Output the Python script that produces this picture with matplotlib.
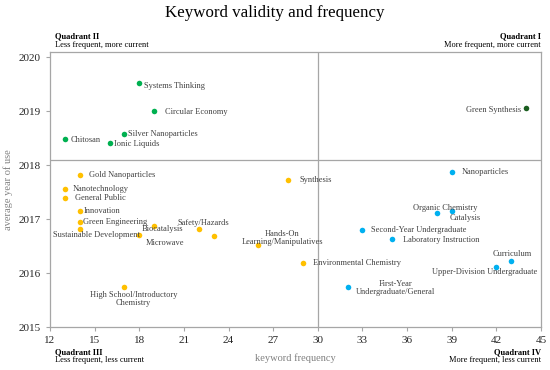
import matplotlib.pyplot as plt

plt.rcParams['font.family'] = ['Liberation Serif', 'DejaVu Serif']

# keyword frequency, average year of use, label, label offset (pixels), alignment
green_x = [18, 19, 13, 17, 16]
green_y = [2019.53, 2019.0, 2018.48, 2018.57, 2018.41]
green_lab = ["Systems Thinking", "Circular Economy", "Chitosan", "Silver Nanoparticles", "Ionic Liquids"]

dark_x = [44]
dark_y = [2019.07]
dark_lab = ["Green Synthesis"]

yellow_x = [14, 13, 13, 14, 14, 14, 19, 18, 22, 23, 26, 17, 28, 29]
yellow_y = [2017.81, 2017.55, 2017.40, 2017.16, 2016.95, 2016.81, 2016.88, 2016.70,
            2016.82, 2016.69, 2016.52, 2015.74, 2017.73, 2016.19]
yellow_lab = ["Gold Nanoparticles", "Nanotechnology", "General Public", "Innovation",
              "Green Engineering", "Sustainable Development", "Biocatalysis", "Microwave",
              "Safety/Hazards", "", "Hands-On\nLearning/Manipulatives",
              "High School/Introductory\nChemistry", "Synthesis", "Environmental Chemistry"]

blue_x = [39, 38, 39, 33, 35, 43, 42, 32]
blue_y = [2017.88, 2017.12, 2017.15, 2016.79, 2016.64, 2016.23, 2016.11, 2015.75]
blue_lab = ["Nanoparticles", "Organic Chemistry", "Catalysis", "Second-Year Undergraduate",
            "Laboratory Instruction", "Curriculum", "Upper-Division Undergraduate",
            "First-Year\nUndergraduate/General"]

offsets = {
    "Systems Thinking": (5, -3, 'left'), "Circular Economy": (11, -1, 'left'),
    "Chitosan": (6, -1, 'left'), "Silver Nanoparticles": (4, 0, 'left'),
    "Ionic Liquids": (4, -1, 'left'), "Green Synthesis": (-5, -2, 'right'),
    "Nanoparticles": (10, 0, 'left'), "Synthesis": (11, 0, 'left'),
    "Gold Nanoparticles": (9, 0, 'left'), "Nanotechnology": (8, 0, 'left'),
    "General Public": (10, 0, 'left'), "Innovation": (4, 0, 'left'),
    "Green Engineering": (3, 0, 'left'), "Sustainable Development": (17, -6, 'center'),
    "Biocatalysis": (8, -3, 'center'), "Microwave": (26, -8, 'center'),
    "Safety/Hazards": (5, 6, 'center'), "Hands-On\nLearning/Manipulatives": (24, 7, 'center'),
    "High School/Introductory\nChemistry": (9, -12, 'center'),
    "Environmental Chemistry": (10, 0, 'left'), "Organic Chemistry": (8, 5, 'center'),
    "Catalysis": (13, -7, 'center'), "Second-Year Undergraduate": (9, 0, 'left'),
    "Laboratory Instruction": (11, -1, 'left'), "Curriculum": (1, 7, 'center'),
    "Upper-Division Undergraduate": (-12, -5, 'center'),
    "First-Year\nUndergraduate/General": (48, -1, 'center'),
}

fig = plt.figure(figsize=(5.5, 3.7), dpi=100)
ax = fig.add_axes([0.0909, 0.1162, 0.8927, 0.7433])

groups = [(green_x, green_y, green_lab, '#00B050'),
          (dark_x, dark_y, dark_lab, '#1B5E20'),
          (yellow_x, yellow_y, yellow_lab, '#FFC000'),
          (blue_x, blue_y, blue_lab, '#00B0F0')]
for xs, ys, labs, col in groups:
    ax.scatter(xs, ys, s=16, color=col, zorder=3, linewidths=0)
    for x, y, lab in zip(xs, ys, labs):
        if not lab:
            continue
        dx, dy, ha = offsets[lab]
        ax.annotate(lab, (x, y), xytext=(dx, dy), textcoords='offset pixels',
                    ha=ha, va='center', fontsize=6.0, color='#404040',
                    linespacing=1.0, zorder=4)

ax.axvline(30, color='#a6a6a6', lw=0.9, zorder=1)
ax.axhline(2018.1, color='#a6a6a6', lw=0.9, zorder=1)

ax.set_xlim(12, 45)
ax.set_ylim(2015, 2020.1)
ax.set_xticks(range(12, 46, 3))
ax.set_yticks(range(2015, 2021))
ax.tick_params(labelsize=8, colors='#a6a6a6', labelcolor='#262626', length=3, width=0.8)
for sp in ax.spines.values():
    sp.set_color('#a6a6a6')
    sp.set_linewidth(0.9)

ax.set_xlabel("keyword frequency", fontsize=7.5, color='#808080', labelpad=6)
ax.set_ylabel("average year of use", fontsize=7.5, color='#808080', labelpad=4)

fig.text(0.5, 0.965, "Keyword validity and frequency", ha='center', va='center', fontsize=12.2)

fig.text(0.1, 0.903, "Quadrant II", fontsize=6, fontweight='bold', va='center')
fig.text(0.1, 0.879, "Less frequent, more current", fontsize=6, va='center')
fig.text(0.9836, 0.903, "Quadrant I", fontsize=6, fontweight='bold', va='center', ha='right')
fig.text(0.9836, 0.879, "More frequent, more current", fontsize=6, va='center', ha='right')
fig.text(0.1, 0.049, "Quadrant III", fontsize=6, fontweight='bold', va='center')
fig.text(0.1, 0.027, "Less frequent, less current", fontsize=6, va='center')
fig.text(0.9836, 0.049, "Quadrant IV", fontsize=6, fontweight='bold', va='center', ha='right')
fig.text(0.9836, 0.027, "More frequent, less current", fontsize=6, va='center', ha='right')

fig.savefig("out.png", dpi=100)
